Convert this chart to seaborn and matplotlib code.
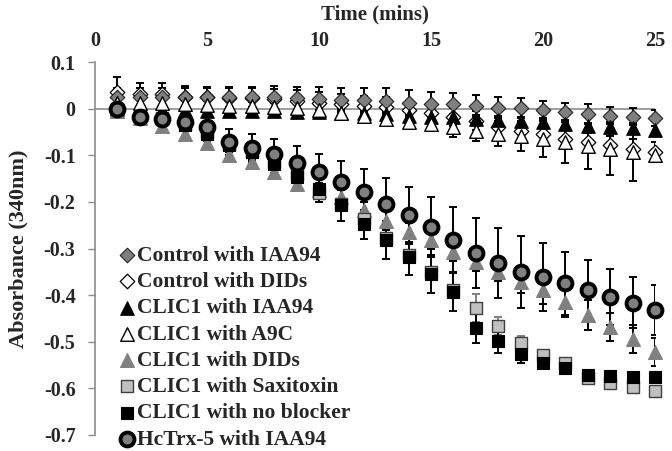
import numpy as np
import pandas as pd
import matplotlib
matplotlib.use("Agg")
import matplotlib.pyplot as plt
import seaborn as sns

# Datos
time = list(range(1, 26))

ctrl_iaa94 = [0.025, 0.025, 0.025, 0.025, 0.025, 0.025, 0.025, 0.024, 0.022, 0.021, 0.019, 0.018, 0.017,
              0.013, 0.010, 0.009, 0.005, 0.002, 0.001, -0.004, -0.008, -0.011, -0.015, -0.017, -0.020]
ctrl_dids = [0.035, 0.031, 0.031, 0.026, 0.025, 0.023, 0.023, 0.021, 0.017, 0.013, 0.010, 0.006, 0.003,
             -0.004, -0.009, -0.018, -0.026, -0.040, -0.047, -0.054, -0.065, -0.072, -0.079, -0.086, -0.092]
clic_iaa94 = [0.0, -0.002, -0.003, -0.004, -0.005, -0.005, -0.006, -0.006, -0.007, -0.008, -0.009, -0.010, -0.012,
              -0.015, -0.017, -0.019, -0.022, -0.024, -0.026, -0.029, -0.033, -0.038, -0.040, -0.042, -0.046]
clic_a9c = [0.012, 0.012, 0.011, 0.010, 0.007, 0.006, 0.005, 0.003, 0.001, -0.004, -0.010, -0.015, -0.022,
            -0.029, -0.033, -0.040, -0.047, -0.054, -0.058, -0.065, -0.072, -0.081, -0.086, -0.093, -0.100]
clic_dids = [-0.005, -0.020, -0.038, -0.054, -0.074, -0.100, -0.115, -0.136, -0.161, -0.175, -0.190, -0.218, -0.240,
             -0.265, -0.282, -0.307, -0.329, -0.350, -0.371, -0.389, -0.414, -0.443, -0.468, -0.495, -0.521]
clic_saxi = [0.0, -0.015, -0.020, -0.033, -0.050, -0.075, -0.090, -0.115, -0.140, -0.180, -0.205, -0.236, -0.278,
             -0.314, -0.350, -0.388, -0.428, -0.466, -0.502, -0.528, -0.545, -0.578, -0.589, -0.598, -0.605]
clic_none = [0.0, -0.015, -0.022, -0.035, -0.054, -0.079, -0.093, -0.118, -0.147, -0.172, -0.207, -0.248, -0.282,
             -0.318, -0.355, -0.393, -0.471, -0.498, -0.526, -0.546, -0.557, -0.571, -0.574, -0.575, -0.576]
hctrx = [0.0, -0.019, -0.022, -0.029, -0.040, -0.072, -0.084, -0.098, -0.117, -0.136, -0.158, -0.179, -0.204,
         -0.229, -0.254, -0.281, -0.309, -0.332, -0.350, -0.362, -0.375, -0.389, -0.404, -0.416, -0.432]

# Barras de error
err_ctrl_iaa94 = [0.02, 0.02, 0.02, 0.02, 0.02, 0.022, 0.022, 0.024, 0.025, 0.025, 0.026, 0.027, 0.027,
                  0.026, 0.026, 0.025, 0.024, 0.023, 0.022, 0.021, 0.02, 0.02, 0.019, 0.019, 0.018]
err_ctrl_dids = [0.032, 0.025, 0.024, 0.023, 0.022, 0.022, 0.022, 0.022, 0.022, 0.022, 0.022, 0.022, 0.022,
                 0.02, 0.02, 0.02, 0.02, 0.02, 0.02, 0.02, 0.02, 0.02, 0.02, 0.02, 0.02]
err_clic_iaa94 = [0.005] * 13 + [0.008] * 12
err_clic_a9c = [0.01] * 15 + [0.02, 0.023, 0.027, 0.032, 0.039, 0.045, 0.048, 0.057, 0.062, 0.01]
err_clic_dids = [0.01, 0.01, 0.012, 0.012, 0.015, 0.015, 0.015, 0.015, 0.015, 0.015, 0.018, 0.018, 0.02,
                 0.02, 0.02, 0.02, 0.02, 0.02, 0.025, 0.03, 0.032, 0.032, 0.03, 0.03, 0.03]
err_clic_saxi = [0.005] * 16 + [0.03, 0.02, 0.015, 0.01, 0.01, 0.01, 0.01, 0.01, 0.01]
err_clic_none = [0.005, 0.008, 0.01, 0.012, 0.015, 0.015, 0.018, 0.02, 0.025, 0.028, 0.033, 0.031, 0.04,
                 0.039, 0.04, 0.04, 0.031, 0.026, 0.02, 0.01, 0.01, 0.008, 0.008, 0.007, 0.007]
err_hctrx = [0.005, 0.01, 0.012, 0.012, 0.014, 0.028, 0.03, 0.032, 0.036, 0.039, 0.046, 0.049, 0.055,
             0.061, 0.064, 0.07, 0.075, 0.075, 0.077, 0.073, 0.068, 0.064, 0.06, 0.054, 0.053]

labels = ['Control with IAA94', 'Control with DIDs', 'CLIC1 with IAA94', 'CLIC1 with A9C',
          'CLIC1 with DIDs', 'CLIC1 with Saxitoxin', 'CLIC1 with no blocker', 'HcTrx-5 with IAA94']

sns.set_style('white')
plt.rcParams['font.family'] = ['Liberation Serif', 'DejaVu Serif']
plt.rcParams['font.weight'] = 'bold'

fig = plt.figure(figsize=(6.72, 4.51), dpi=100)
ax = fig.add_axes([95 / 672, 1 - 435 / 451, 560 / 672, (435 - 62) / 451])

# (valores, error, marcador, relleno, borde, grosor, tamano, color error, zorder)
series = [
    (ctrl_iaa94, err_ctrl_iaa94, 'D', '#7f7f7f', '#222222', 0.8, 55, 'black', 4),
    (ctrl_dids, err_ctrl_dids, 'D', 'white', 'black', 0.9, 55, 'black', 3),
    (clic_iaa94, err_clic_iaa94, '^', 'black', 'black', 0.8, 95, 'black', 5),
    (clic_a9c, err_clic_a9c, '^', 'white', 'black', 1.0, 95, 'black', 6),
    (clic_dids, err_clic_dids, '^', '#808080', '#808080', 0.8, 100, 'black', 7),
    (clic_saxi, err_clic_saxi, 's', '#c0c0c0', '#404040', 1.0, 85, '#808080', 8),
    (clic_none, err_clic_none, 's', 'black', 'black', 0.8, 85, 'black', 9),
    (hctrx, err_hctrx, 'o', '#808080', 'black', 2.8, 100, 'black', 10),
]

ax.axhline(0, color='#8c8c8c', lw=1.2, zorder=1)

for (vals, err, mk, fc, ec, lw, s, ecol, z), lab in zip(series, labels):
    df = pd.DataFrame({'time': time, 'abs': vals})
    ax.errorbar(time, vals, yerr=err, fmt='none', ecolor=ecol, elinewidth=1.4,
                capsize=3, capthick=1.4, zorder=2)
    sns.scatterplot(data=df, x='time', y='abs', marker=mk, color=fc, edgecolor=ec,
                    linewidth=lw, s=s, label=lab, zorder=z, clip_on=False, ax=ax)

ax.set_xlim(0, 25)
ax.set_ylim(-0.7, 0.1)
ax.set_xticks([0, 5, 10, 15, 20, 25])
ax.set_xticklabels(['0', '5', '10', '15', '20', '25'])
ax.set_yticks(np.round(np.arange(-0.7, 0.11, 0.1), 1))
ax.set_yticklabels(['-0.7', '-0.6', '-0.5', '-0.4', '-0.3', '-0.2', '-0.1', '0', '0.1'])

ax.xaxis.tick_top()
ax.xaxis.set_label_position('top')
ax.tick_params(axis='x', length=0, pad=8, labelsize=14.5)
ax.tick_params(axis='y', direction='out', length=5, width=1, color='#8c8c8c', pad=9,
               labelsize=14.5, left=True)

for sp in ['top', 'right', 'bottom']:
    ax.spines[sp].set_visible(False)
ax.spines['left'].set_color('#8c8c8c')
ax.spines['left'].set_linewidth(1.2)

ax.set_xlabel('Time (mins)', fontsize=15, fontweight='bold', labelpad=8)
ax.set_ylabel('Absorbance (340nm)', fontsize=16, fontweight='bold')
ax.yaxis.set_label_coords(-0.118, 0.5)

leg = ax.legend(loc='upper left', bbox_to_anchor=(0.046, 0.508), frameon=False,
                fontsize=15.5, handletextpad=0.2, labelspacing=0.29, borderpad=0,
                handlelength=0.56, borderaxespad=0)
for t in leg.get_texts():
    t.set_fontweight('bold')

plt.savefig('out.png', dpi=100)
plt.close()
